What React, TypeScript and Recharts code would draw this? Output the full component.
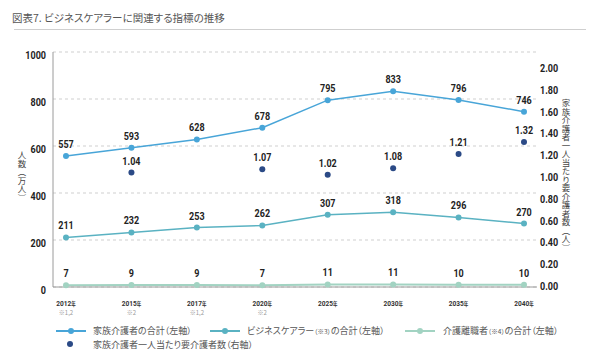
import { LineChart, Line, XAxis, YAxis, CartesianGrid, LabelList } from 'recharts';

const years = ['2012', '2015', '2017', '2020', '2025', '2030', '2035', '2040'];
const notes = ['※1,2', '※2', '※1,2', '※2', '', '', '', ''];
const familyCarers = [557, 593, 628, 678, 795, 833, 796, 746];
const businessCarers = [211, 232, 253, 262, 307, 318, 296, 270];
const careLeavers = [7, 9, 9, 7, 11, 11, 10, 10];
const perCarer = [null, 1.04, null, 1.07, 1.02, 1.08, 1.21, 1.32];

const leftTicks = [0, 200, 400, 600, 800, 1000];
const rightTicks = [0, 0.2, 0.4, 0.6, 0.8, 1.0, 1.2, 1.4, 1.6, 1.8, 2.0];

const C_FAMILY = '#48a5d8';
const C_BUSINESS = '#5ab2c2';
const C_LEAVER = '#a2d3c2';
const C_RATIO = '#2b4a86';

const NUM_FONT = "'Roboto', sans-serif";
const JP_FONT = "'Noto Sans CJK JP', 'Noto Sans', sans-serif";
const SQUEEZE = 0.82;

const data = years.map((y, i) => ({
  year: y,
  note: notes[i],
  family: familyCarers[i],
  business: businessCarers[i],
  leaver: careLeavers[i],
  ratio: perCarer[i],
}));

// narrow bold numbers, squeezed horizontally to look like the condensed original
const Num = ({ x, y, anchor, size, children }: any) => (
  <text
    transform={`translate(${x},${y}) scale(${SQUEEZE},1)`}
    textAnchor={anchor}
    fill="#222"
    fontSize={size}
    fontWeight={700}
    fontFamily={NUM_FONT}
  >
    {children}
  </text>
);

const ValueLabel = (props: any) => {
  const { x, y, value, digits } = props;
  if (value == null) return null;
  return (
    <Num x={x} y={y - 8} anchor="middle" size={11}>
      {digits ? Number(value).toFixed(digits) : value}
    </Num>
  );
};

const LeftTick = ({ x, y, payload }: any) => (
  <Num x={x} y={y + 7} anchor="end" size={11}>{payload.value}</Num>
);

const RightTick = ({ x, y, payload }: any) => (
  <Num x={x} y={y + 4} anchor="start" size={11}>{Number(payload.value).toFixed(2)}</Num>
);

const YearTick = ({ x, y, payload, index }: any) => (
  <g>
    <text transform={`translate(${x},${y + 11}) scale(${SQUEEZE},1)`} textAnchor="middle" fill="#333" fontWeight={700} fontFamily={NUM_FONT}>
      <tspan fontSize={8}>{payload.value}</tspan>
      <tspan fontSize={5.5} fontFamily={JP_FONT}>年</tspan>
    </text>
    {notes[index] && (
      <text x={x} y={y + 20} textAnchor="middle" fill="#999" fontSize={6} fontFamily={JP_FONT}>
        {notes[index]}
      </text>
    )}
  </g>
);

const LegendLine = ({ color }: { color: string }) => (
  <svg width={30} height={8} style={{ display: 'block' }}>
    <line x1={0} y1={4} x2={30} y2={4} stroke={color} strokeWidth={2} />
    <circle cx={15} cy={4} r={3} fill={color} />
  </svg>
);

const small = { fontSize: 6.5 };

export default function App() {
  return (
    <div style={{ position: 'absolute', left: 0, top: 0, width: 590, height: 362, background: '#fff', fontFamily: JP_FONT, fontFeatureSettings: '"palt"' }}>
      <div style={{ position: 'absolute', left: 12, top: 10, fontSize: 10.5, color: '#555', whiteSpace: 'nowrap' }}>
        図表7. ビジネスケアラーに関連する指標の推移
      </div>
      <div style={{ position: 'absolute', left: 14, top: 29, width: 572, height: 1, background: '#cfcfcf' }} />

      <div style={{ position: 'absolute', left: 16, top: 151, writingMode: 'vertical-rl', fontSize: 8.5, color: '#444', whiteSpace: 'nowrap' }}>
        人数（万人）
      </div>
      <div style={{ position: 'absolute', left: 560, top: 99, writingMode: 'vertical-rl', fontSize: 8.5, color: '#444', whiteSpace: 'nowrap' }}>
        家族介護者一人当たり要介護者数（人）
      </div>

      <div style={{ position: 'absolute', left: 0, top: 0 }}>
        <LineChart width={590} height={362} data={data} margin={{ top: 52, right: 13, left: 10, bottom: 45 }}>
          <CartesianGrid yAxisId="left" vertical={false} stroke="#cfcfcf" strokeDasharray="3 3" />
          <XAxis
            dataKey="year"
            padding={{ left: 13, right: 13 }}
            axisLine={{ stroke: '#9a9a9a' }}
            tickLine={false}
            tick={<YearTick />}
            height={30}
            interval={0}
          />
          <YAxis
            yAxisId="left"
            domain={[0, 1000]}
            ticks={leftTicks}
            interval={0}
            width={43}
            axisLine={{ stroke: '#9a9a9a' }}
            tickLine={false}
            tickSize={0}
            tickMargin={7}
            tick={<LeftTick />}
          />
          <YAxis
            yAxisId="right"
            orientation="right"
            domain={[-0.01, 2.147]}
            ticks={rightTicks}
            interval={0}
            width={40}
            axisLine={false}
            tickLine={false}
            tickSize={0}
            tickMargin={3}
            tick={<RightTick />}
          />
          <Line yAxisId="left" dataKey="leaver" stroke={C_LEAVER} strokeWidth={2} dot={{ r: 3, fill: C_LEAVER, stroke: 'none' }} isAnimationActive={false}>
            <LabelList dataKey="leaver" content={<ValueLabel />} />
          </Line>
          <Line yAxisId="left" dataKey="business" stroke={C_BUSINESS} strokeWidth={1.5} dot={{ r: 3, fill: C_BUSINESS, stroke: 'none' }} isAnimationActive={false}>
            <LabelList dataKey="business" content={<ValueLabel />} />
          </Line>
          <Line yAxisId="left" dataKey="family" stroke={C_FAMILY} strokeWidth={1.5} dot={{ r: 3, fill: C_FAMILY, stroke: 'none' }} isAnimationActive={false}>
            <LabelList dataKey="family" content={<ValueLabel />} />
          </Line>
          <Line yAxisId="right" dataKey="ratio" stroke="none" dot={{ r: 3, fill: C_RATIO, stroke: 'none' }} isAnimationActive={false}>
            <LabelList dataKey="ratio" content={<ValueLabel digits={2} />} />
          </Line>
        </LineChart>
      </div>

      <div style={{ position: 'absolute', left: 56, top: 325, fontSize: 9, color: '#555', whiteSpace: 'nowrap' }}>
        <div style={{ position: 'absolute', left: 0, top: 2 }}><LegendLine color={C_FAMILY} /></div>
        <div style={{ position: 'absolute', left: 37, top: -1 }}>家族介護者の合計（左軸）</div>
        <div style={{ position: 'absolute', left: 154, top: 2 }}><LegendLine color={C_BUSINESS} /></div>
        <div style={{ position: 'absolute', left: 191, top: -1 }}>ビジネスケアラー<span style={small}>（※3）</span>の合計（左軸）</div>
        <div style={{ position: 'absolute', left: 349, top: 2 }}><LegendLine color={C_LEAVER} /></div>
        <div style={{ position: 'absolute', left: 387, top: -1 }}>介護離職者<span style={small}>（※4）</span>の合計（左軸）</div>
        <div style={{ position: 'absolute', left: 11, top: 16, width: 6, height: 6, borderRadius: 3, background: C_RATIO }} />
        <div style={{ position: 'absolute', left: 37, top: 13 }}>家族介護者一人当たり要介護者数（右軸）</div>
      </div>
    </div>
  );
}
